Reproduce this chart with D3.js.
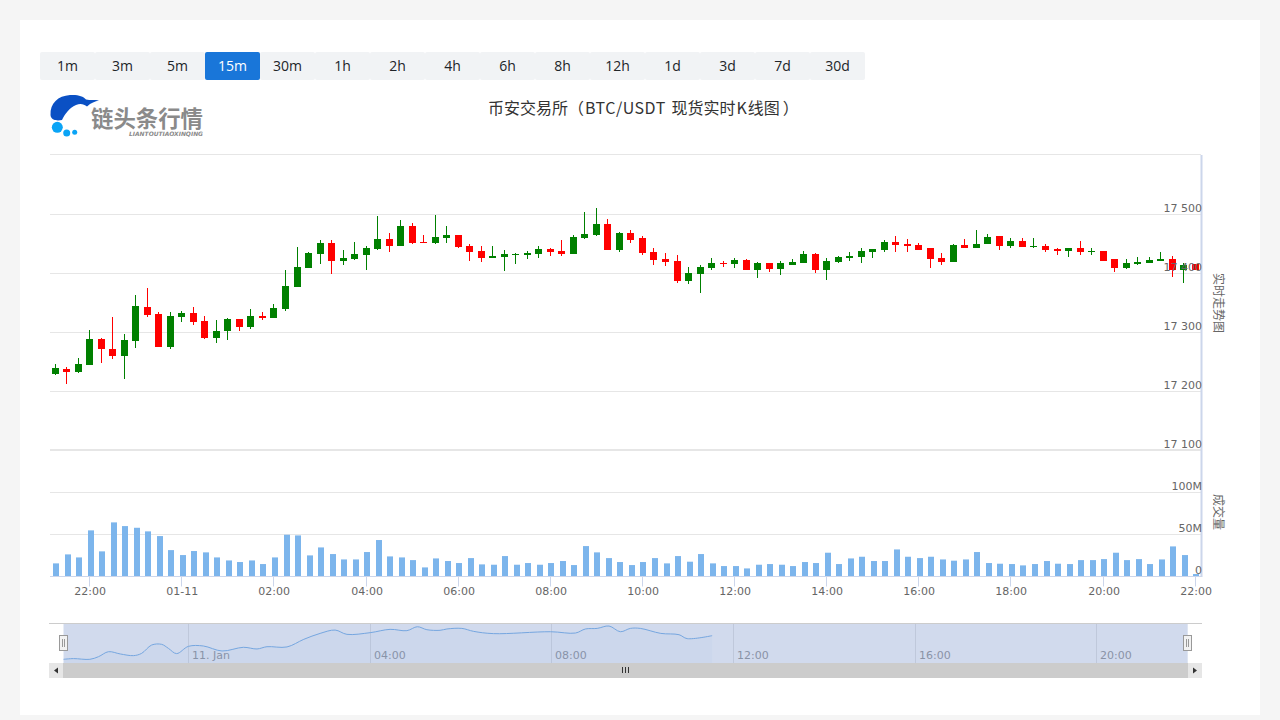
<!DOCTYPE html>
<html lang="zh">
<head>
<meta charset="utf-8">
<script src="https://cdn.jsdelivr.net/npm/d3@7/dist/d3.min.js"></script>
<style>
html,body{margin:0;padding:0;background:#f5f5f5;overflow:hidden}
svg{display:block}
text{font-family:"DejaVu Sans",sans-serif}
.domain{display:none}
</style>
</head>
<body>
<svg id="chart" width="1280" height="720"></svg>
<script>
const periods = ["1m","3m","5m","15m","30m","1h","2h","4h","6h","8h","12h","1d","3d","7d","30d"];
const activePeriod = "15m";
const titleParts = ["币安交易所（","BTC/USDT"," 现货实时","K","线图","）"];
const startTime = Date.UTC(2023,0,10,21,15);
const endTime = Date.UTC(2023,0,11,22,0);
const stepMinutes = 15;

const opens = [17229,17238,17233,17245,17289,17272,17260,17285,17343,17331,17275,17326,17333,17319,17290,17302,17323,17309,17328,17324,17340,17377,17409,17433,17451,17421,17424,17431,17441,17458,17446,17479,17453,17451,17460,17465,17446,17438,17426,17428,17431,17431,17433,17441,17438,17433,17460,17465,17484,17440,17468,17460,17436,17424,17421,17387,17399,17409,17418,17416,17423,17406,17418,17407,17414,17418,17433,17406,17419,17426,17428,17436,17440,17453,17450,17448,17443,17426,17419,17448,17443,17450,17463,17446,17455,17445,17446,17441,17438,17443,17436,17438,17424,17409,17416,17418,17421,17424,17406,17416];
const closes = [17240,17233,17246,17289,17272,17260,17287,17345,17329,17275,17328,17333,17318,17290,17302,17323,17309,17328,17324,17341,17379,17411,17434,17451,17421,17426,17433,17443,17458,17446,17479,17451,17451,17462,17465,17445,17436,17426,17429,17433,17433,17434,17441,17436,17433,17462,17467,17484,17440,17468,17456,17434,17423,17419,17387,17401,17411,17418,17416,17423,17406,17418,17407,17418,17419,17433,17406,17421,17428,17429,17438,17441,17453,17448,17446,17440,17424,17419,17448,17443,17450,17462,17446,17455,17445,17446,17440,17438,17443,17436,17438,17421,17409,17418,17419,17423,17424,17406,17414,17406];
const highs = [17246,17241,17256,17304,17290,17326,17297,17363,17375,17334,17334,17336,17343,17328,17321,17324,17323,17340,17334,17348,17406,17445,17436,17456,17456,17440,17453,17446,17496,17468,17490,17485,17465,17499,17480,17465,17450,17446,17446,17440,17434,17438,17446,17443,17456,17465,17504,17511,17492,17470,17473,17463,17443,17434,17431,17411,17414,17426,17421,17426,17424,17419,17418,17421,17424,17438,17434,17426,17429,17436,17443,17441,17456,17463,17458,17451,17443,17434,17450,17458,17473,17467,17463,17460,17460,17460,17450,17443,17443,17455,17443,17438,17424,17424,17428,17428,17436,17429,17418,17416];
const lows = [17228,17212,17231,17245,17248,17255,17221,17273,17326,17275,17272,17318,17312,17289,17282,17287,17302,17306,17321,17324,17336,17377,17409,17416,17399,17414,17423,17406,17440,17436,17446,17450,17451,17450,17451,17443,17421,17419,17426,17404,17416,17424,17426,17429,17429,17433,17458,17463,17440,17436,17451,17431,17414,17412,17384,17382,17367,17406,17411,17409,17406,17392,17402,17397,17414,17418,17401,17389,17418,17421,17418,17426,17436,17436,17436,17440,17409,17414,17419,17443,17443,17450,17440,17443,17445,17443,17436,17431,17428,17431,17431,17421,17402,17407,17414,17418,17421,17394,17384,17406];
const volumes = [15.5,26.2,22.6,54.8,29.8,64.3,59.9,57.9,53.6,48.0,31.3,25.4,30.2,28.6,22.6,19.0,17.1,19.0,14.7,22.6,49.6,48.8,25.0,34.5,26.6,20.2,20.2,29.0,43.3,23.8,22.6,19.4,10.7,21.4,18.3,15.9,21.8,14.3,13.9,24.2,13.9,15.9,13.9,15.9,18.3,13.5,36.1,28.6,21.8,17.1,13.5,17.1,21.8,15.5,24.2,17.5,26.6,15.5,12.3,12.3,9.5,13.9,14.7,13.9,12.3,17.1,15.9,28.2,14.7,21.4,23.4,18.3,18.3,32.1,23.4,21.8,23.4,20.2,18.7,20.2,29.0,15.9,15.1,14.7,13.1,14.7,18.3,15.1,14.7,19.4,19.4,20.6,28.2,19.4,20.6,14.7,20.2,35.7,25.4,2.8];
const priceTicks = [17100,17200,17300,17400,17500];
const priceGrid = [17100,17200,17300,17400,17500,17600];
const volumeTicks = [0,50,100];
const volumeGrid = [50,100,150];
const timeTickHours = [22,24,26,28,30,32,34,36,38,40,42,44,46];
const navTickHours = [24,28,32,36,40,44];
const navHours = [-2.75,-2.53,-2.17,-1.98,-1.76,-1.5,-1.21,-1.03,-0.81,-0.59,-0.44,-0.26,0,0.33,0.74,1.21,1.51,1.73,2.17,2.54,2.9,3.23,3.49,4,4.44,4.81,5.04,5.25,5.54,5.69,6.02,6.28,6.72,7.97,8.52,8.74,9,9.26,9.51,9.73,9.95,10.4,10.8,10.98,11.53];
const navValues = [17230,17236,17230,17252,17294,17275,17261,17280,17350,17356,17322,17278,17339,17342,17300,17331,17317,17336,17334,17398,17448,17476,17440,17454,17482,17471,17504,17479,17474,17485,17490,17465,17446,17462,17451,17485,17490,17510,17462,17490,17490,17448,17437,17404,17429];
const priceAxisTitle = "实时走势图";
const volumeAxisTitle = "成交量";
const logoName = "链头条行情";
const logoSub = "LIANTOUTIAOXINQING";

const svg = d3.select("#chart");
const hourDate = h => new Date(Date.UTC(2023,0,10) + h*3600e3);
const candles = opens.map((o,i)=>({t:new Date(startTime+i*stepMinutes*60e3),o,c:closes[i],h:highs[i],l:lows[i],v:volumes[i]}));
const crisp = v => Math.floor(v)+0.5;

// page panel
svg.append("rect").attr("x",20).attr("y",20).attr("width",1240).attr("height",695).attr("fill","#fff");

// period buttons
const btn = d3.scaleBand().domain(periods).range([40,865]);
const bg = svg.append("g").selectAll("g").data(periods).join("g")
  .attr("transform",d=>`translate(${btn(d)},52)`);
bg.append("rect").attr("width",btn.bandwidth()).attr("height",28).attr("rx",2)
  .attr("fill",d=>d===activePeriod?"#1976d9":"#f1f3f5");
bg.append("text").attr("x",btn.bandwidth()/2).attr("y",19).attr("text-anchor","middle")
  .style("font-family","'Open Sans',sans-serif").style("font-size","14px")
  .attr("fill",d=>d===activePeriod?"#fff":"#212529").text(d=>d);

// logo
const logo = svg.append("g");
logo.append("path").attr("fill","#0a50c4")
  .attr("d","M50.5,115 C50,103 58,96 70,95 C78,94.5 83,96 86,99.5 C90,100.5 95,99.5 99,100.5 C95,101.5 91,102.5 87,106.5 C84,104.5 81,103 76,105 C69,108 65,114 62,120 C57,121 51,120.5 50.5,115 Z");
logo.selectAll("circle").data([[57.3,127.3,5.5],[66.7,133,3.5],[74.7,132.3,2.5]]).join("circle")
  .attr("cx",d=>d[0]).attr("cy",d=>d[1]).attr("r",d=>d[2]).attr("fill","#0aa4f6");
logo.append("text").attr("x",91).attr("y",126.5).attr("fill","#8a8a8a")
  .style("font-family","'Noto Sans CJK SC'").style("font-size","22.4px").style("font-weight","700").text(logoName);
logo.append("text").attr("x",129).attr("y",136).attr("fill","#8a8a8a")
  .style("font-size","6px").style("font-weight","700").style("font-style","italic").text(logoSub)
  .attr("textLength",74).attr("lengthAdjust","spacingAndGlyphs");

// title
const titleDx = [0,1,2,1,1,3];
svg.append("text").attr("x",488).attr("y",114).attr("fill","#333")
  .style("font-family","'Noto Sans CJK SC'").style("font-size","16px")
  .selectAll("tspan").data(titleParts).join("tspan")
  .attr("dx",(d,i)=>titleDx[i])
  .style("letter-spacing",d=>d==="BTC/USDT"?"0.5px":null)
  .style("white-space","pre")
  .text(d=>d);

// scales
const x = d3.scaleUtc().domain([startTime,endTime]).range([55.2,1195.2]);
const yP = d3.scaleLinear().domain([17100,17600]).range([450.5,154.95]);
const yV = d3.scaleLinear().domain([0,150]).range([576.4,450.4]);
const navX = d3.scaleUtc().domain([startTime,endTime]).range([63.5,1187.7]);
const navY = d3.scaleLinear().domain([17199,17527]).range([663,624]);

// grid
const grid = svg.append("g").attr("stroke","#e6e6e6").attr("stroke-width",1);
grid.selectAll(".gp").data(priceGrid).join("line").attr("class","gp")
  .attr("x1",50).attr("x2",1201).attr("y1",d=>crisp(yP(d))).attr("y2",d=>crisp(yP(d)));
grid.selectAll(".gv").data(volumeGrid).join("line").attr("class","gv")
  .attr("x1",50).attr("x2",1201).attr("y1",d=>crisp(yV(d))-(d===150?1:0)).attr("y2",d=>crisp(yV(d))-(d===150?1:0));

// axis lines
svg.append("line").attr("x1",1201.5).attr("x2",1201.5).attr("y1",155).attr("y2",577).attr("stroke","#ccd6eb").attr("stroke-width",2);

// bottom time axis
const xAxisG = svg.append("g").attr("transform","translate(0,576.5)")
  .call(d3.axisBottom(x).tickValues(timeTickHours.map(hourDate)).tickSize(10).tickPadding(0).offset(0)
    .tickFormat(d=>d.getUTCHours()===0?"01-11":d3.utcFormat("%H:%M")(d)));
xAxisG.selectAll(".tick").attr("transform",d=>`translate(${crisp(x(d))},0)`);
xAxisG.selectAll("line").attr("stroke","#ccd6eb");
xAxisG.selectAll("text").attr("x",0.7).attr("y",18.5).attr("dy",0).attr("fill","#666").style("font-size","11px").style("font-family","'DejaVu Sans'");
svg.append("line").attr("x1",50).attr("x2",1201).attr("y1",576.5).attr("y2",576.5).attr("stroke","#ccd6eb");

// volume bars
svg.append("g").selectAll("rect").data(candles).join("rect")
  .attr("x",d=>Math.round(x(d.t)-2)).attr("width",6)
  .attr("y",d=>yV(d.v)).attr("height",d=>576-yV(d.v)).attr("fill","#7cb5ec");

// candlesticks
const cg = svg.append("g").selectAll("g").data(candles).join("g")
  .attr("transform",d=>`translate(${Math.round(x(d.t)-3.5)},0)`);
const col = d => d.c>=d.o?"#008000":"#ff0000";
cg.append("line").attr("x1",3.5).attr("x2",3.5)
  .attr("y1",d=>Math.round(yP(d.h))).attr("y2",d=>Math.round(yP(d.l)))
  .attr("stroke",col).attr("stroke-width",1);
cg.append("rect").attr("width",7)
  .attr("y",d=>Math.round(yP(Math.max(d.o,d.c))))
  .attr("height",d=>Math.max(1,Math.round(yP(Math.min(d.o,d.c)))-Math.round(yP(Math.max(d.o,d.c)))))
  .attr("fill",col);

// right axes labels (on top of the candles)
const labelStyle = g => g.call(s=>s.select(".domain").remove()).selectAll("text")
  .attr("x",0).attr("y",-3).attr("dy",0).attr("fill","#666").style("font-size","11px").style("font-family","'DejaVu Sans'");
svg.append("g").attr("transform","translate(1202,0)")
  .call(d3.axisLeft(yP).tickValues(priceTicks).tickSize(0).tickFormat(d=>d3.format(",")(d).replace(",", " ")))
  .call(labelStyle);
svg.append("g").attr("transform","translate(1202,0)")
  .call(d3.axisLeft(yV).tickValues(volumeTicks).tickSize(0).tickFormat(d=>d===0?"0":d+"M"))
  .call(labelStyle);

// axis titles
const axisTitle = (t,cy)=>svg.append("text").attr("transform",`translate(1214,${cy}) rotate(90)`)
  .attr("text-anchor","middle").attr("fill","#666")
  .style("font-family","'Noto Sans CJK SC'").style("font-size","12px").text(t);
axisTitle(priceAxisTitle,303);
axisTitle(volumeAxisTitle,512);

// navigator
const navDates = navHours.map(h=>hourDate(h+24));
const navPts = navDates.map((d,i)=>[navX(d),navY(navValues[i])]);
const navAxis = svg.append("g").attr("transform","translate(0,623.5)")
  .call(d3.axisBottom(navX).tickValues(navTickHours.map(hourDate)).tickSize(40).tickPadding(0).offset(0)
    .tickFormat(d=>d.getUTCHours()===0?"11. Jan":d3.utcFormat("%H:%M")(d)));
navAxis.select(".domain").remove();
navAxis.selectAll(".tick").attr("transform",d=>`translate(${crisp(navX(d))},0)`);
navAxis.selectAll("line").attr("stroke","#e6e6e6");
navAxis.selectAll("text").attr("x",3.5).attr("y",35.5).attr("dy",0).attr("text-anchor","start").attr("fill","#999").style("font-size","11px").style("font-family","'DejaVu Sans'");
svg.append("path").datum(navPts).attr("fill","#7cb5ec").attr("fill-opacity",0.05)
  .attr("d",d3.area().x(d=>d[0]).y0(663).y1(d=>d[1]).curve(d3.curveCatmullRom.alpha(0.5)));
svg.append("path").datum(navPts).attr("fill","none").attr("stroke","#7cb5ec").attr("stroke-width",1)
  .attr("d",d3.line().x(d=>d[0]).y(d=>d[1]).curve(d3.curveCatmullRom.alpha(0.5)));
svg.append("rect").attr("x",navX(startTime)).attr("y",624).attr("width",navX(endTime)-navX(startTime)).attr("height",39)
  .attr("fill","#6685c2").attr("fill-opacity",0.3);
svg.append("line").attr("x1",49).attr("x2",1202).attr("y1",623.5).attr("y2",623.5).attr("stroke","#ccc");

// navigator handles
const handles = svg.append("g").selectAll("g").data([navX(startTime),navX(endTime)]).join("g")
  .attr("transform",d=>`translate(${crisp(d)},0)`);
handles.append("rect").attr("x",-4).attr("y",635.5).attr("width",8).attr("height",15).attr("fill","#f2f2f2").attr("stroke","#999");
handles.selectAll("line").data([-1,1]).join("line").attr("x1",d=>d).attr("x2",d=>d).attr("y1",639).attr("y2",647).attr("stroke","#999");

// scrollbar
const sb = svg.append("g");
sb.append("rect").attr("x",49).attr("y",663).attr("width",1153).attr("height",15).attr("fill","#cccccc");
sb.append("rect").attr("x",49).attr("y",663).attr("width",14).attr("height",15).attr("fill","#e6e6e6");
sb.append("rect").attr("x",1188).attr("y",663).attr("width",14).attr("height",15).attr("fill","#e6e6e6");
sb.append("path").attr("d","M58,667.5 L54,670.5 L58,673.5 Z").attr("fill","#333");
sb.append("path").attr("d","M1193,667.5 L1197,670.5 L1193,673.5 Z").attr("fill","#333");
sb.selectAll("line").data([-3,0,3]).join("line").attr("x1",d=>625.5+d).attr("x2",d=>625.5+d).attr("y1",667).attr("y2",673).attr("stroke","#333");
</script>
</body>
</html>
